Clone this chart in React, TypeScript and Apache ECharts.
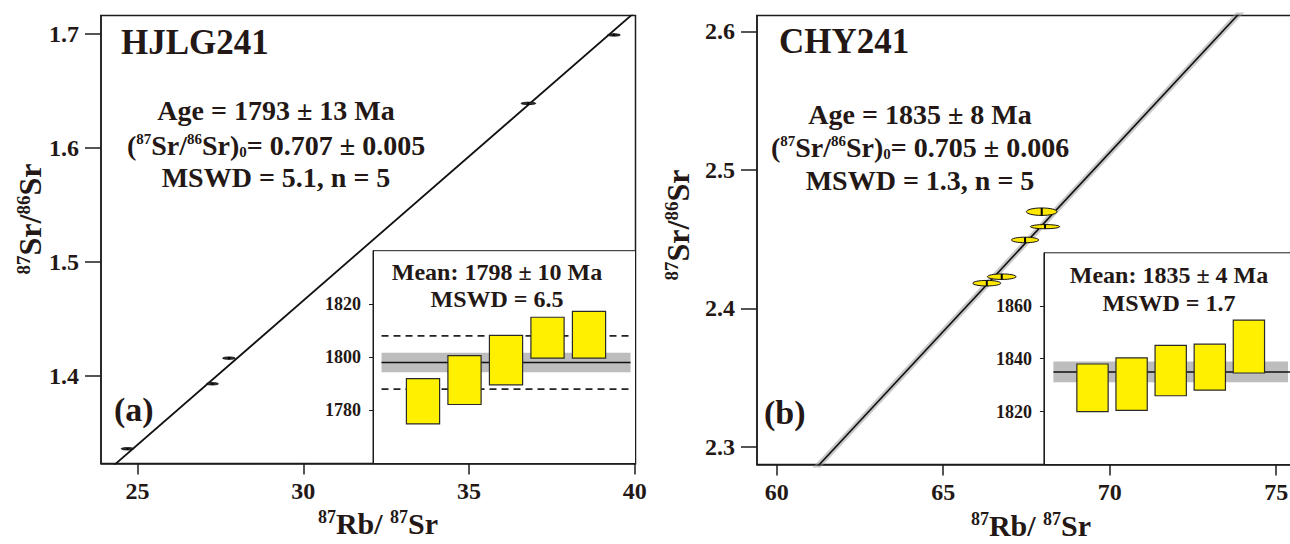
import React, { useEffect, useRef } from "react";
import * as echarts from "echarts";

const FONT = '"Liberation Serif", "Times New Roman", serif';
const INK = "#231815";
const LINE = "#1c1c1c";
const BAR_FILL = "#FFF000";

// (a) HJLG241 — isochron points, 87Rb/86Sr vs 87Sr/86Sr with 2σ half-widths
const rbSrA = [24.7, 27.26, 27.76, 36.79, 39.37];
const srSrA = [1.336, 1.393, 1.4155, 1.639, 1.699];
const rbErrA = [0.19, 0.18, 0.19, 0.22, 0.19];
const srErrA = [0.001, 0.001, 0.001, 0.001, 0.001];
const slopeA = 0.0253;
const initialA = 0.707;

// (b) CHY241
const rbSrB = [67.96, 68.06, 67.46, 66.76, 66.31];
const srSrB = [2.4698, 2.459, 2.4494, 2.4229, 2.4182];
const rbErrB = [0.46, 0.44, 0.41, 0.43, 0.42];
const srErrB = [0.0027, 0.0015, 0.002, 0.002, 0.002];
const slopeB = 0.02582;
const initialB = 0.705;

// weighted-mean age insets (Ma)
const ageA = [1783.4, 1791.4, 1798.9, 1807.3, 1808.4];
const ageErrA = [8.5, 9.2, 9.3, 7.7, 8.8];
const meanA = 1798;
const meanBandA = 3.7;
const meanErrA = 10;

const ageB = [1829.0, 1830.4, 1835.5, 1836.8, 1844.6];
const ageErrB = [9.0, 9.9, 9.5, 8.7, 10.0];
const meanB = 1835;
const meanBandB = 3.9;

// tick labels
const xTicksA = [25, 30, 35, 40];
const yTicksA = [1.4, 1.5, 1.6, 1.7];
const xTicksB = [60, 65, 70, 75];
const yTicksB = [2.3, 2.4, 2.5, 2.6];
const insetTicksA = [1780, 1800, 1820];
const insetTicksB = [1820, 1840, 1860];

const font = (size: number, weight: string = "bold") => ({
  fontSize: size,
  fontFamily: FONT,
  fontWeight: weight,
});

const sup = (size: number) => ({ ...font(size), verticalAlign: "top", fill: INK });
const sub = (size: number) => ({ ...font(size), verticalAlign: "bottom", fill: INK });

function text(x: number, y: number, t: string, size: number, opts: any = {}) {
  const { align = "center", weight = "bold", rotation = 0, rich = undefined } = opts;
  return {
    type: "text",
    x,
    y,
    rotation,
    z: 100,
    style: {
      text: t,
      ...font(size, weight),
      fill: INK,
      align,
      textAlign: align,
      verticalAlign: "middle",
      textVerticalAlign: "middle",
      rich,
    },
  };
}

const ratioRich = { s: sup(15), b: sub(15) };
const yTitleRich = { s: sup(19) };
const xTitleRich = { s: sup(18) };
const plain = (v: number) => String(v);

function mainAxes(gridIndex: number, xr: number[], yr: number[], xt: number[], yt: number[]) {
  const common = {
    gridIndex,
    type: "value",
    splitLine: { show: false },
    axisLine: { show: true, onZero: false, lineStyle: { color: LINE, width: 1.5 } },
  };
  return {
    x: {
      ...common,
      min: xr[0],
      max: xr[1],
      axisTick: { show: true, length: 11, customValues: xt, lineStyle: { color: LINE, width: 1.5 } },
      axisLabel: { customValues: xt, formatter: plain, margin: 15, color: INK, ...font(24) },
    },
    y: {
      ...common,
      min: yr[0],
      max: yr[1],
      axisTick: { show: true, length: 16, customValues: yt, lineStyle: { color: LINE, width: 1.5 } },
      axisLabel: { customValues: yt, formatter: plain, margin: 22, color: INK, ...font(24) },
    },
  };
}

function insetAxes(gridIndex: number, xr: number[], yr: number[], yt: number[]) {
  return {
    x: {
      gridIndex,
      type: "value",
      min: xr[0],
      max: xr[1],
      show: false,
    },
    y: {
      gridIndex,
      type: "value",
      min: yr[0],
      max: yr[1],
      splitLine: { show: false },
      axisLine: { show: true, onZero: false, lineStyle: { color: LINE, width: 1 } },
      axisTick: { show: true, length: 4, customValues: yt, lineStyle: { color: LINE, width: 1 } },
      axisLabel: { customValues: yt, formatter: plain, margin: 12, color: INK, ...font(18) },
    },
  };
}

const ellipseRenderer = (fill: string, stroke: string) => (params: any, api: any) => {
  const c = api.coord([api.value(0), api.value(1)]);
  const s = api.size([api.value(2), api.value(3)]);
  const rx = s[0];
  const ry = Math.max(s[1], 1);
  return {
    type: "group",
    children: [
      {
        type: "ellipse",
        shape: { cx: c[0], cy: c[1], rx, ry },
        style: { fill, stroke, lineWidth: 1 },
      },
      {
        type: "line",
        shape: { x1: c[0], y1: c[1] - ry, x2: c[0], y2: c[1] + ry },
        style: { stroke: "#000", lineWidth: 2 },
      },
    ],
  };
};

const barRenderer = (params: any, api: any) => {
  const i = api.value(0);
  const v = api.value(1);
  const e = api.value(2);
  const p1 = api.coord([i - 0.4, v + e]);
  const p2 = api.coord([i + 0.4, v - e]);
  return {
    type: "rect",
    shape: { x: p1[0], y: p1[1], width: p2[0] - p1[0], height: p2[1] - p1[1] },
    style: { fill: BAR_FILL, stroke: "#2a2a2a", lineWidth: 1.2 },
  };
};

const bandRenderer = (params: any, api: any) => {
  const p1 = api.coord([api.value(0), api.value(3)]);
  const p2 = api.coord([api.value(1), api.value(2)]);
  return {
    type: "rect",
    shape: { x: p1[0], y: p1[1], width: p2[0] - p1[0], height: p2[1] - p1[1] },
    style: { fill: "#bdbdbd" },
  };
};

function buildOption() {
  const xrA = [23.9, 40.02];
  const yrA = [1.323, 1.716];
  const xrB = [59.41, 75.716];
  const yrB = [2.2873, 2.6113];
  const insetXA = [-0.205, 6.12];
  const insetXB = [-0.243, 6.307];

  const aMain = mainAxes(0, xrA, yrA, xTicksA, yTicksA);
  const aIn = insetAxes(1, insetXA, [1760, 1840], insetTicksA);
  const bMain = mainAxes(2, xrB, yrB, xTicksB, yTicksB);
  const bIn = insetAxes(3, insetXB, [1800, 1880], insetTicksB);

  const gridBox = {
    show: true,
    borderColor: LINE,
    borderWidth: 1.5,
    backgroundColor: "transparent",
    containLabel: false,
    outerBoundsMode: "none",
  };
  const insetBox = {
    show: true,
    borderColor: LINE,
    borderWidth: 1,
    backgroundColor: "#ffffff",
    containLabel: false,
    outerBoundsMode: "none",
  };

  const lineA = [xrA[0], xrA[1]].map((x) => [x, initialA + slopeA * x]);
  const lineB = [xrB[0], xrB[1]].map((x) => [x, initialB + slopeB * x]);

  return {
    animation: false,
    backgroundColor: "#ffffff",
    grid: [
      { left: 101, top: 15.6, width: 534.5, height: 448, ...gridBox },
      { left: 373, top: 250.7, width: 262.5, height: 212.9, ...insetBox },
      { left: 757, top: 15.6, width: 543, height: 449, ...gridBox },
      { left: 1043.9, top: 252.8, width: 256.1, height: 211.8, ...insetBox },
    ],
    xAxis: [aMain.x, aIn.x, bMain.x, bIn.x],
    yAxis: [aMain.y, aIn.y, bMain.y, bIn.y],
    series: [
      // panel (a) isochron
      {
        type: "line",
        xAxisIndex: 0,
        yAxisIndex: 0,
        data: lineA,
        symbol: "none",
        clip: true,
        lineStyle: { color: "#111", width: 1.8 },
        z: 2,
      },
      {
        type: "custom",
        xAxisIndex: 0,
        yAxisIndex: 0,
        clip: true,
        renderItem: ellipseRenderer("#333", "#111"),
        data: rbSrA.map((x, k) => [x, srSrA[k], rbErrA[k], srErrA[k]]),
        z: 3,
      },
      // panel (a) weighted mean
      {
        type: "custom",
        xAxisIndex: 1,
        yAxisIndex: 1,
        renderItem: bandRenderer,
        data: [[0, 6, meanA - meanBandA, meanA + meanBandA]],
        z: 3,
      },
      {
        type: "line",
        xAxisIndex: 1,
        yAxisIndex: 1,
        data: [[0, meanA], [6, meanA]],
        symbol: "none",
        lineStyle: { color: "#111", width: 1.6 },
        z: 4,
      },
      {
        type: "line",
        xAxisIndex: 1,
        yAxisIndex: 1,
        data: [[0, meanA + meanErrA], [6, meanA + meanErrA]],
        symbol: "none",
        lineStyle: { color: "#222", width: 1.6, type: [7, 5] },
        z: 4,
      },
      {
        type: "line",
        xAxisIndex: 1,
        yAxisIndex: 1,
        data: [[0, meanA - meanErrA], [6, meanA - meanErrA]],
        symbol: "none",
        lineStyle: { color: "#222", width: 1.6, type: [7, 5] },
        z: 4,
      },
      {
        type: "custom",
        xAxisIndex: 1,
        yAxisIndex: 1,
        renderItem: barRenderer,
        data: ageA.map((v, k) => [k + 1, v, ageErrA[k]]),
        z: 5,
      },
      // panel (b) isochron
      {
        type: "line",
        xAxisIndex: 2,
        yAxisIndex: 2,
        data: lineB,
        symbol: "none",
        clip: true,
        lineStyle: { color: "rgba(150,150,150,0.5)", width: 6 },
        z: 2,
      },
      {
        type: "line",
        xAxisIndex: 2,
        yAxisIndex: 2,
        data: lineB,
        symbol: "none",
        clip: true,
        lineStyle: { color: "#111", width: 1.6 },
        z: 3,
      },
      {
        type: "custom",
        xAxisIndex: 2,
        yAxisIndex: 2,
        clip: true,
        renderItem: ellipseRenderer("#FFE800", "#111"),
        data: rbSrB.map((x, k) => [x, srSrB[k], rbErrB[k], srErrB[k]]),
        z: 4,
      },
      // panel (b) weighted mean
      {
        type: "custom",
        xAxisIndex: 3,
        yAxisIndex: 3,
        renderItem: bandRenderer,
        data: [[0, 6, meanB - meanBandB, meanB + meanBandB]],
        z: 3,
      },
      {
        type: "line",
        xAxisIndex: 3,
        yAxisIndex: 3,
        data: [[0, meanB], [6.3, meanB]],
        symbol: "none",
        lineStyle: { color: "#111", width: 1.6 },
        z: 4,
      },
      {
        type: "custom",
        xAxisIndex: 3,
        yAxisIndex: 3,
        renderItem: barRenderer,
        data: ageB.map((v, k) => [k + 1, v, ageErrB[k]]),
        z: 5,
      },
    ],
    graphic: [
      text(121, 42.5, "HJLG241", 35, { align: "left" }),
      text(276, 110, "Age = 1793 ± 13 Ma", 28),
      text(276, 145, "({s|87}Sr/{s|86}Sr){b|0}= 0.707 ± 0.005", 28, { rich: ratioRich }),
      text(276, 177, "MSWD = 5.1, n = 5", 28),
      text(114, 409, "(a)", 34, { align: "left" }),
      text(497, 272, "Mean: 1798 ± 10 Ma", 24),
      text(497, 299, "MSWD = 6.5", 24),
      text(30, 219, "{s|87}Sr/{s|86}Sr", 32, { rotation: Math.PI / 2, rich: yTitleRich }),
      text(378, 523, "{s|87}Rb/ {s|87}Sr", 30, { rich: xTitleRich }),

      text(779, 41.5, "CHY241", 35, { align: "left" }),
      text(920, 114, "Age = 1835 ± 8 Ma", 28),
      text(920, 147, "({s|87}Sr/{s|86}Sr){b|0}= 0.705 ± 0.006", 28, { rich: ratioRich }),
      text(920, 180, "MSWD = 1.3, n = 5", 28),
      text(764, 412, "(b)", 34, { align: "left" }),
      text(1169, 275, "Mean: 1835 ± 4 Ma", 24),
      text(1169, 303, "MSWD = 1.7", 24),
      text(678, 225, "{s|87}Sr/{s|86}Sr", 32, { rotation: Math.PI / 2, rich: yTitleRich }),
      text(1031, 525, "{s|87}Rb/ {s|87}Sr", 30, { rich: xTitleRich }),
    ],
  };
}

export default function App() {
  const ref = useRef<HTMLDivElement>(null);
  useEffect(() => {
    if (!ref.current) return;
    const chart = echarts.init(ref.current, undefined, { renderer: "svg" });
    chart.setOption(buildOption() as any);
    return () => chart.dispose();
  }, []);
  return (
    <div
      ref={ref}
      style={{ position: "absolute", left: 0, top: 0, width: 1290, height: 544, background: "#fff" }}
    />
  );
}
